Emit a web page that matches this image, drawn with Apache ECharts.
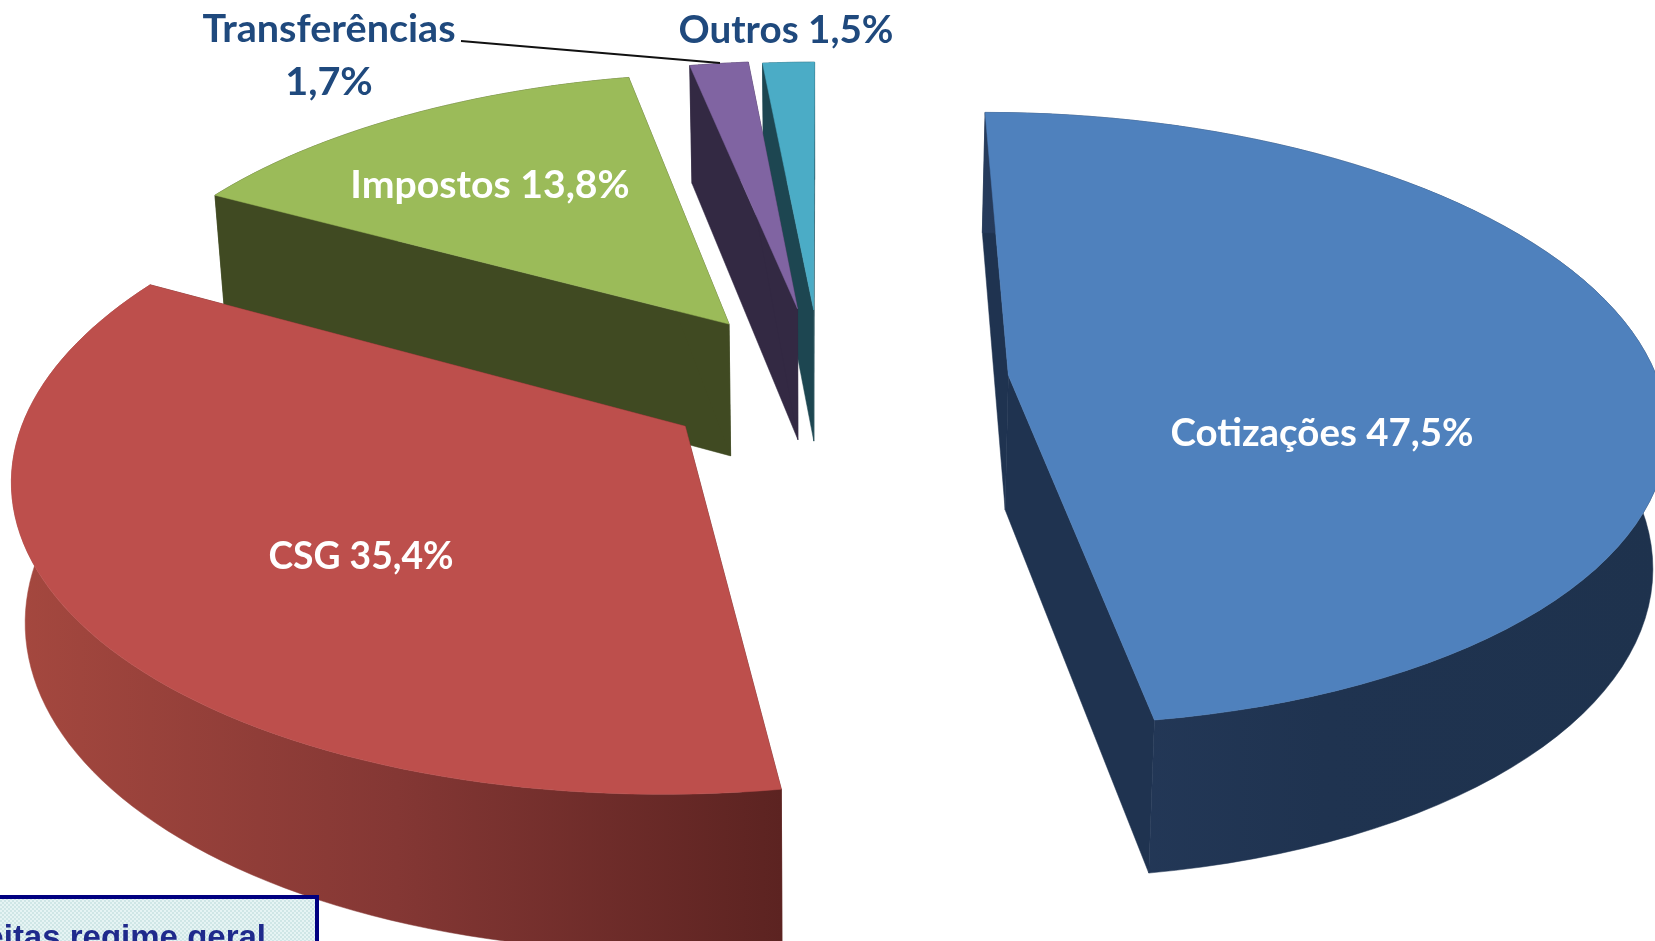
<!DOCTYPE html>
<html>
<head>
<meta charset="utf-8">
<title>Receitas regime geral</title>
<style>
  html, body { margin: 0; padding: 0; background: #fff; overflow: hidden; }
  #chart { width: 1655px; height: 941px; }
</style>
<script src="https://cdn.jsdelivr.net/npm/echarts@6/dist/echarts.min.js"></script>
</head>
<body>
<div id="chart"></div>
<script>
const categories = ['Cotizações', 'CSG', 'Impostos', 'Transferências', 'Outros']
const shares = [47.5, 35.4, 13.8, 1.7, 1.5]
const boxTitle = 'Receitas regime geral'

// how far each slice is pulled out of the pie, in radii
const explode = [0.29, 0.25, 0.245, 0.254, 0.247]

const topColors = ['#4f81bd', '#bd4f4c', '#9bbb59', '#8064a2', '#4bacc6']
const faceColors = ['#1f3350', '#5f2422', '#404a22', '#332943', '#1d4651']
const wallFrom = ['#263b5c', '#a5483f', '#404a22', '#332943', '#1d4651']
const wallMid = ['#1f3350', '#843734', '#404a22', '#332943', '#1d4651']
const wallTo = ['#1e324d', '#5c2321', '#404a22', '#332943', '#1d4651']

const labelStyles = [
  { x: 1322, y: 433, color: '#fff', size: 39, scaleX: 0.985 },
  { x: 361, y: 556, color: '#fff', size: 39, scaleX: 0.955 },
  { x: 490, y: 185, color: '#fff', size: 39, scaleX: 1.005 },
  { x: 329, y: 56, color: '#1f497d', size: 39, scaleX: 1.015 },
  { x: 786, y: 30, color: '#1f497d', size: 39, scaleX: 0.99 }
]

// ground plane -> screen
const view = { cx: 821, cy: 382, a: 650, b: 302, k: 0.142, h: 135, shrink: 0.983 }

function project(u, v) {
  const w = 1 - view.k * v
  return [view.cx + view.a * u / w, view.cy + view.b * v / w]
}
function projectLow(u, v) {
  const w = 1 - view.k * v
  const p = project(u, v)
  return [view.cx + (p[0] - view.cx) * view.shrink, p[1] + view.h / Math.pow(w, 0.85)]
}

const total = shares.reduce((s, x) => s + x, 0)
let acc = 0
const slices = shares.map((value, i) => {
  const start = acc / total * Math.PI * 2
  acc += value
  const end = acc / total * Math.PI * 2
  const mid = (start + end) / 2
  const ox = explode[i] * Math.sin(mid)
  const oy = -explode[i] * Math.cos(mid)
  const rim = []
  const steps = 80
  for (let s = 0; s <= steps; s++) {
    const t = start + (end - start) * s / steps
    rim.push([ox + Math.sin(t), oy - Math.cos(t)])
  }
  return { apex: [ox, oy], rim }
})

function poly(points, fill) {
  return { type: 'polygon', shape: { points }, style: { fill, stroke: fill, lineWidth: 0.5 } }
}

function renderSlice(params, api) {
  const i = api.value(0)
  const { apex, rim } = slices[i]
  const topRim = rim.map(p => project(p[0], p[1]))
  const lowRim = rim.map(p => projectLow(p[0], p[1]))
  const a = project(apex[0], apex[1])
  const aLow = projectLow(apex[0], apex[1])
  const first = rim.length - 1
  const wallFill = new echarts.graphic.LinearGradient(0, 0, 1, 0, [
    { offset: 0, color: wallFrom[i] },
    { offset: 0.5, color: wallMid[i] },
    { offset: 1, color: wallTo[i] }
  ])
  return {
    type: 'group',
    children: [
      poly([a, topRim[0], lowRim[0], aLow], faceColors[i]),
      poly([a, topRim[first], lowRim[first], aLow], faceColors[i]),
      poly(topRim.concat(lowRim.slice().reverse()), wallFill),
      poly([a].concat(topRim), topColors[i])
    ]
  }
}

function renderLabel(params, api) {
  const i = api.value(0)
  const st = labelStyles[i]
  const pct = shares[i].toFixed(1).replace('.', ',') + '%'
  const text = i === 3 ? categories[i] + '\n' + pct : categories[i] + ' ' + pct
  return {
    type: 'text',
    x: st.x,
    y: st.y,
    scaleX: st.scaleX,
    style: {
      text,
      fill: st.color,
      font: '700 ' + st.size + 'px Lato',
      lineHeight: 53,
      align: 'center',
      verticalAlign: 'middle'
    }
  }
}

// light dotted fill of the box
const dots = document.createElement('canvas')
dots.width = dots.height = 4
const dc = dots.getContext('2d')
dc.fillStyle = '#e6f4f4'
dc.fillRect(0, 0, 4, 4)
dc.fillStyle = '#cfe6e6'
dc.fillRect(0, 0, 2, 2)
dc.fillRect(2, 2, 2, 2)

const myChart = echarts.init(document.getElementById('chart'), null, { renderer: 'canvas' })
myChart.setOption({
  animation: false,
  backgroundColor: '#fff',
  series: [
    {
      type: 'custom',
      coordinateSystem: 'none',
      renderItem: renderSlice,
      silent: true,
      data: [4, 3, 2, 1, 0].map(i => [i])
    },
    {
      type: 'custom',
      coordinateSystem: 'none',
      renderItem: renderLabel,
      silent: true,
      z: 5,
      data: categories.map((c, i) => [i])
    }
  ],
  graphic: {
    elements: [
      {
        type: 'line',
        z: 6,
        shape: { x1: 461, y1: 41, x2: 720, y2: 63 },
        style: { stroke: '#111', lineWidth: 2 }
      },
      {
        type: 'rect',
        z: 6,
        shape: { x: -10, y: 897, width: 327, height: 70 },
        style: { fill: { image: dots, repeat: 'repeat' }, stroke: '#000080', lineWidth: 4 }
      },
      {
        type: 'text',
        z: 7,
        x: 266,
        y: 939,
        style: {
          text: boxTitle,
          fill: '#1f2a8c',
          font: '700 33px "Liberation Sans"',
          align: 'right',
          verticalAlign: 'middle'
        }
      }
    ]
  }
})
</script>
</body>
</html>
